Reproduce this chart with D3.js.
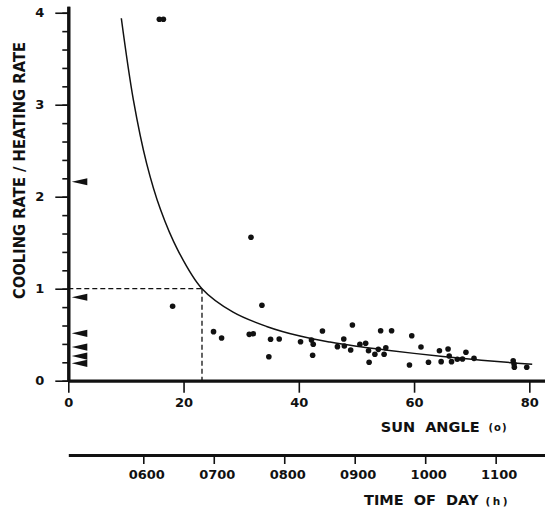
<!DOCTYPE html>
<html><head><meta charset="utf-8">
<script src="https://cdn.jsdelivr.net/npm/d3@7"></script>
<style>body{margin:0;background:#fff;} svg{display:block;background:#fff;}</style>
</head><body>
<svg id="chart" width="545" height="509"></svg>
<script>
// Observed points: sun angle (deg) and cooling/heating rate ratio
const sunAngle = [15.8,16.5,18.1,25.2,26.6,31.4,32.1,31.7,33.6,35.1,34.8,36.6,40.3,42.2,42.5,42.4,44.1,46.7,47.8,47.9,49.0,49.3,50.6,51.6,52.1,52.2,53.2,53.8,54.2,54.8,55.1,56.1,59.6,59.2,61.2,62.5,64.4,64.7,65.9,66.1,66.5,67.5,68.4,69.0,70.4,77.2,77.35,77.4,79.55];
const ratio    = [3.93,3.93,0.81,0.533,0.464,0.504,0.511,1.559,0.82,0.45,0.261,0.453,0.424,0.442,0.396,0.276,0.54,0.37,0.453,0.377,0.334,0.605,0.396,0.407,0.326,0.20,0.287,0.341,0.543,0.287,0.359,0.543,0.489,0.171,0.366,0.20,0.326,0.207,0.345,0.268,0.207,0.233,0.236,0.309,0.243,0.217,0.182,0.146,0.146];
// Fitted curve
const curveAngle = [9.2,11.3,13.6,16,19,23.2,28.6,34.4,40.2,45.4,50,55,60,65,70,75,80.5];
const curveRatio = [3.94,3.05,2.36,1.86,1.42,1.0,0.745,0.59,0.485,0.42,0.375,0.335,0.297,0.262,0.232,0.205,0.178];
// Arrow markers on the ratio axis
const arrowRatio = [2.163,0.907,0.515,0.366,0.268,0.189];
// Reference (dashed) lines
const refRatio = 1.0;
const refAngle = 23.2;
// Ticks
const xTicks = [0,20,40,60,80];
const yTicks = [0,1,2,3,4];
const yMinorTicks = d3.range(0,4.01,0.2).map(v=>+v.toFixed(1));
const timeTicks = [6,7,8,9,10,11];
const timeLabels = ["0600","0700","0800","0900","1000","1100"];

const svg = d3.select("#chart");
const ink = "#111";
const font = "DejaVu Sans, Liberation Sans, sans-serif";

const x = d3.scaleLinear().domain([0,82.72]).range([68.3,545]);
const y = d3.scaleLinear().domain([0,4.07]).range([380.7,6.3]);
const t = d3.scaleLinear().domain([4.936,11.70]).range([68.3,545]);

// Y axis minor
const gyMinor = svg.append("g").attr("transform",`translate(${x(0)},0)`)
  .call(d3.axisLeft(y).tickValues(yMinorTicks).tickSize(6).tickSizeOuter(0).tickFormat(""));
// Y axis major
const gy = svg.append("g").attr("transform",`translate(${x(0)},0)`)
  .call(d3.axisLeft(y).tickValues(yTicks).tickSize(13).tickSizeOuter(0).tickPadding(11).tickFormat(d3.format("d")));
[gyMinor,gy].forEach(g=>{
  g.select(".domain").attr("stroke",ink).attr("stroke-width",3);
  g.selectAll(".tick line").attr("stroke",ink).attr("stroke-width",1.6);
});
gy.selectAll(".tick text").attr("font-family",font).attr("font-weight","bold").attr("font-size",13).attr("fill",ink);

// X axis
const gx = svg.append("g").attr("transform",`translate(0,${y(0)})`)
  .call(d3.axisBottom(x).tickValues(xTicks).tickSize(12).tickSizeOuter(0).tickPadding(5));
gx.select(".domain").attr("stroke",ink).attr("stroke-width",3.2);
gx.selectAll(".tick line").attr("stroke",ink).attr("stroke-width",1.6);
gx.selectAll(".tick text").attr("font-family",font).attr("font-weight","bold").attr("font-size",13).attr("fill",ink);

// Time axis
const gt = svg.append("g").attr("transform","translate(0,455)")
  .call(d3.axisBottom(t).tickValues(timeTicks).tickSize(9).tickSizeOuter(0).tickPadding(6)
    .tickFormat((d,i)=>timeLabels[i]));
gt.select(".domain").attr("stroke",ink).attr("stroke-width",3.2);
gt.selectAll(".tick line").attr("stroke",ink).attr("stroke-width",1.6);
gt.selectAll(".tick text").attr("font-family",font).attr("font-weight","bold").attr("font-size",13).attr("fill",ink).attr("dx",3);

// Dashed reference lines
const dash = svg.append("g").attr("stroke",ink).attr("stroke-width",1.3).attr("stroke-dasharray","5,3").attr("fill","none");
dash.append("line").attr("x1",x(0)).attr("x2",x(refAngle)).attr("y1",y(refRatio)).attr("y2",y(refRatio));
dash.append("line").attr("x1",x(refAngle)).attr("x2",x(refAngle)).attr("y1",y(refRatio)).attr("y2",y(0));

// Curve
const curveData = curveAngle.map((a,i)=>[a,curveRatio[i]]);
svg.append("path").datum(curveData)
  .attr("fill","none").attr("stroke",ink).attr("stroke-width",1.5)
  .attr("d",d3.line().x(d=>x(d[0])).y(d=>y(d[1])).curve(d3.curveCatmullRom.alpha(0.5)));

// Points
svg.append("g").selectAll("circle").data(sunAngle.map((a,i)=>[a,ratio[i]])).join("circle")
  .attr("cx",d=>x(d[0])).attr("cy",d=>y(d[1])).attr("r",2.8).attr("fill",ink);

// Arrow markers
const ax0 = x(0)+3.4, ax1 = x(0)+19;
svg.append("g").selectAll("path").data(arrowRatio).join("path")
  .attr("d",d=>`M${ax0},${y(d)} L${ax1},${y(d)-3.6} L${ax1},${y(d)+3.6} Z`)
  .attr("fill",ink);

// Axis titles
svg.append("text").attr("transform","translate(24.5,170.5) rotate(-90)")
  .attr("text-anchor","middle").attr("font-family",font).attr("font-weight","bold")
  .attr("font-size",16.5).attr("fill",ink).attr("textLength",257).attr("lengthAdjust","spacingAndGlyphs")
  .text("COOLING RATE / HEATING RATE");

const st = svg.append("text").attr("x",380.7).attr("y",432).attr("font-family",font)
  .attr("font-weight","bold").attr("fill",ink);
st.append("tspan").attr("font-size",14.5).text("SUN\u00a0\u00a0ANGLE");
st.append("tspan").attr("font-size",10).attr("dx",9).attr("dy",-1).attr("letter-spacing",1).text("(o)");

const tt = svg.append("text").attr("x",364).attr("y",504.5).attr("font-family",font)
  .attr("font-weight","bold").attr("fill",ink);
tt.append("tspan").attr("font-size",14.5).text("TIME\u00a0\u00a0OF\u00a0\u00a0DAY");
tt.append("tspan").attr("font-size",10.5).attr("dx",7).attr("letter-spacing",2.5).text("(h)");
</script>
</body></html>
